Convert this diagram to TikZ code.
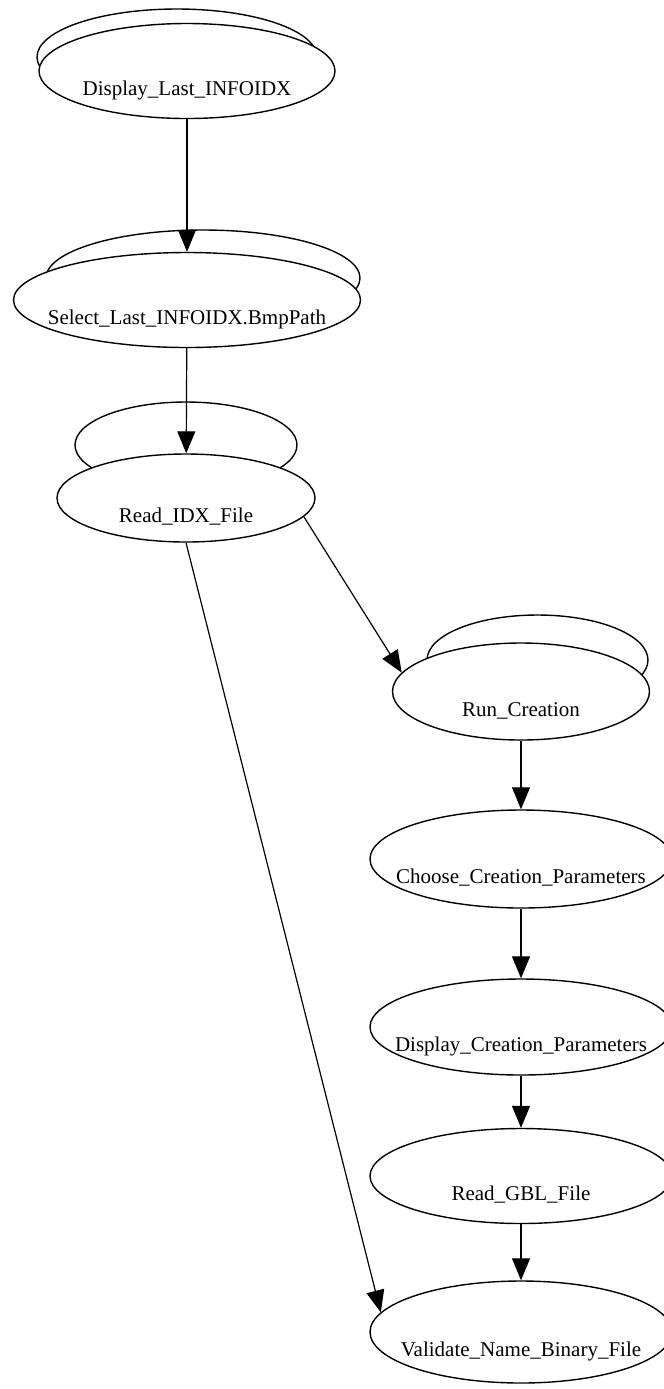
\documentclass[tikz,border=0pt]{standalone}
\usepackage{fontspec}
\setmainfont{Liberation Serif}
\usetikzlibrary{shapes.geometric, arrows.meta}
\newcommand\backoval[4]{\draw[line width=0.7pt, fill=white] (#1,#2) ellipse (#3 and #4);}
\tikzset{
  oval/.style 2 args={ellipse, draw, line width=0.7pt, fill=white, inner sep=0pt,
    minimum width=#1, minimum height=#2, font=\fontsize{10.5}{12}\selectfont,
    text height=26.5pt, text depth=2pt,
    execute at begin node=\hbox to 0pt\bgroup\hss,
    execute at end node=\hss\egroup},
  flow/.style={line width=0.6pt, -{Triangle[length=11pt,width=9pt]}}
}

\begin{document}
\begin{tikzpicture}[x=5pt, y=5pt]
\useasboundingbox (0,0) rectangle (66.4,-138.9);
\clip (0,0) rectangle (66.4,-138.9);

\backoval{17.7}{-5.7}{14.0}{4.8}
\node[oval={148pt}{47.5pt}] (disp) at (18.7,-7.1) {Display\_Last\_INFOIDX};
\backoval{20.3}{-27.8}{15.7}{4.8}
\node[oval={173.5pt}{47.5pt}] (sel) at (18.7,-30.0) {Select\_Last\_INFOIDX.BmpPath};
\backoval{18.6}{-44.5}{11.1}{4.3}
\node[oval={129pt}{44pt}] (read) at (18.6,-49.8) {Read\_IDX\_File};
\backoval{53.75}{-66.0}{11.05}{4.5}
\node[oval={128.5pt}{48.5pt}] (run) at (52.1,-69.15) {Run\_Creation};
\node[oval={151pt}{49pt}] (choose) at (52.1,-85.9) {Choose\_Creation\_Parameters};
\node[oval={151pt}{48pt}] (dispc) at (52.1,-102.7) {Display\_Creation\_Parameters};
\node[oval={151pt}{47.5pt}] (gbl) at (52.1,-117.6) {Read\_GBL\_File};
\node[oval={151pt}{51pt}] (valid) at (52.1,-133.2) {Validate\_Name\_Binary\_File};

\draw[flow] (disp) -- (sel);
\draw[flow] (sel) -- (read);
\draw[flow] (read.-9) -- (run.171);
\draw[flow] (read.south) -- (valid.172);
\draw[flow] (run) -- (choose);
\draw[flow] (choose) -- (dispc);
\draw[flow] (dispc) -- (gbl);
\draw[flow] (gbl) -- (valid);
\end{tikzpicture}
\end{document}
